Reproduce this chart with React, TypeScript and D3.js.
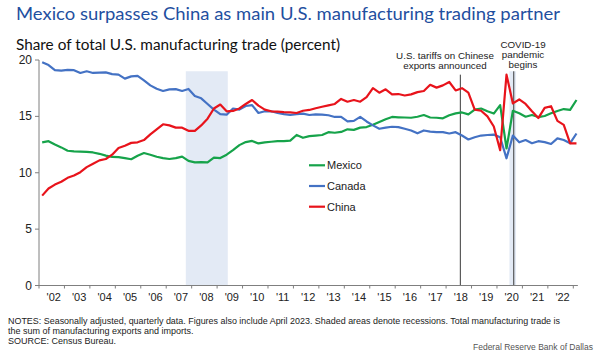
import React from "react";
import * as d3 from "d3";

const startYear = 2002;
const tickLabels = ["'02","'03","'04","'05","'06","'07","'08","'09","'10","'11","'12","'13","'14","'15","'16","'17","'18","'19","'20","'21","'22"];
const yTicks = [0, 5, 10, 15, 20];

const mexico = [12.7,12.8,12.5,12.25,11.95,11.9,11.88,11.85,11.8,11.68,11.52,11.4,11.38,11.3,11.2,11.5,
  11.75,11.6,11.42,11.3,11.22,11.3,11.43,11.05,10.92,10.95,10.92,11.34,11.3,11.6,12.0,12.45,12.72,12.82,
  12.6,12.7,12.75,12.8,12.8,12.85,13.35,13.1,13.25,13.3,13.35,13.6,13.55,13.62,13.85,13.8,14.0,14.05,
  14.25,14.5,14.75,14.95,14.92,14.9,14.88,14.97,15.12,14.9,14.88,14.83,15.1,15.27,15.35,15.18,15.6,15.7,
  15.45,15.25,16.0,12.15,15.5,15.27,14.97,15.12,14.94,15.03,15.27,15.48,15.65,15.57,16.45];
const canada = [19.8,19.55,19.1,19.05,19.12,19.1,18.85,19.0,18.85,18.88,18.9,18.75,18.7,18.35,18.55,18.6,
  18.2,17.75,17.45,17.25,17.4,17.42,17.25,17.43,16.8,16.6,16.1,15.6,15.2,15.15,15.7,15.6,15.92,16.0,
  15.3,15.45,15.45,15.3,15.2,15.12,15.2,15.25,15.12,15.18,15.15,15.1,14.95,14.95,14.55,14.6,14.95,14.55,
  14.2,13.9,14.0,14.08,14.05,13.9,13.75,13.5,13.75,13.65,13.6,13.6,13.48,13.6,13.3,12.95,13.15,13.3,
  13.35,13.38,13.15,11.28,13.3,12.7,12.9,12.62,12.8,12.72,12.55,13.05,12.9,12.62,13.48];
const china = [7.97,8.6,8.95,9.2,9.55,9.75,10.05,10.5,10.8,11.1,11.22,11.6,12.2,12.4,12.65,12.7,
  12.9,13.4,13.85,14.3,14.2,14.0,14.0,13.72,13.72,14.2,14.8,15.7,16.05,15.45,15.48,15.7,16.1,16.45,
  15.95,15.6,15.45,15.42,15.38,15.36,15.3,15.5,15.57,15.72,15.85,15.98,16.1,16.55,16.3,16.45,16.3,16.7,
  17.5,17.1,17.4,16.95,16.98,16.85,16.95,17.15,17.25,17.8,17.55,17.75,18.05,17.3,17.5,17.1,15.6,15.5,
  15.0,14.1,12.0,18.7,16.15,16.5,16.1,15.45,14.85,15.75,15.9,14.6,14.25,12.6,12.6];

const recessions = [[2007.77, 2009.42], [2020.49, 2020.75]];
const events = [
  { t: 2018.56, lines: ["U.S. tariffs on Chinese", "exports announced"], cx: 445, y0: 58.5 },
  { t: 2020.66, lines: ["COVID-19", "pandemic", "begins"], cx: 523, y0: 47.5 },
];
const seriesNames = ["Mexico", "Canada", "China"];
const seriesColors = ["#16a34a", "#4472c4", "#e8131b"];
const notes = [
  "NOTES: Seasonally adjusted, quarterly data. Figures also include April 2023. Shaded areas denote recessions. Total manufacturing trade is",
  "the sum of manufacturing exports and imports.",
  "SOURCE: Census Bureau.",
];

const W = 602, H = 355;
const x = d3.scaleLinear().domain([2002, 2023]).range([39, 573.3]);
const y = d3.scaleLinear().domain([0, 20]).range([285.5, 60]);
const FONT = "'Liberation Sans Narrow', 'Arial Narrow', 'Liberation Sans', Arial, sans-serif";

export default function App() {
  const series = [mexico, canada, china];
  const line = d3.line<number>()
    .x((_, i) => x(startYear + i * 0.25 + 0.125))
    .y((d) => y(d));
  const yearTicks = d3.range(2002, 2024);
  return (
    <svg width={W} height={H} style={{ position: "absolute", left: 0, top: 0, background: "#fff" }}>
      <text x={16} y={20} fontFamily="Lato, 'Open Sans', sans-serif" fontSize={18} fill="#1f4fa0"
        textLength={544} lengthAdjust="spacingAndGlyphs">
        Mexico surpasses China as main U.S. manufacturing trading partner
      </text>
      <text x={16} y={50} fontFamily="Lato, 'Open Sans', sans-serif" fontSize={14.5} fill="#111"
        textLength={324} lengthAdjust="spacingAndGlyphs">
        Share of total U.S. manufacturing trade (percent)
      </text>
      {recessions.map(([a, b], i) => (
        <rect key={i} x={x(a)} y={y(19)} width={x(b) - x(a)} height={y(0) - y(19)} fill="#e3eaf5" />
      ))}
      {events.map((e, i) => (
        <g key={i}>
          <line x1={x(e.t)} x2={x(e.t)} y1={i === 0 ? y(18.7) : y(19)} y2={y(0)} stroke="#3a3a3a" strokeWidth={1} />
          {e.lines.map((s, j) => (
            <text key={j} x={e.cx} y={e.y0 + j * 10.2} textAnchor="middle" fontFamily={FONT} fontSize={9.8} fill="#222">{s}</text>
          ))}
        </g>
      ))}
      <line x1={39} x2={39} y1={y(20)} y2={y(0)} stroke="#7f7f7f" strokeWidth={1} />
      {yTicks.map((v) => (
        <g key={v}>
          <line x1={35} x2={39} y1={y(v)} y2={y(v)} stroke="#7f7f7f" />
          <text x={32} y={y(v) + 4} textAnchor="end" fontFamily={FONT} fontSize={12} fill="#222">{v}</text>
        </g>
      ))}
      <line x1={39} x2={x(2023.18)} y1={y(0)} y2={y(0)} stroke="#7f7f7f" strokeWidth={1} />
      {yearTicks.map((t) => (
        <line key={t} x1={x(t)} x2={x(t)} y1={y(0)} y2={y(0) + 3} stroke="#7f7f7f" />
      ))}
      {tickLabels.map((s, i) => (
        <text key={s} x={x(2002 + i + 0.5) + 2} y={301} textAnchor="middle" fontFamily={FONT} fontSize={11} fill="#222">{s}</text>
      ))}
      {series.map((s, i) => (
        <path key={i} d={line(s) || ""} fill="none" stroke={seriesColors[i]} strokeWidth={2.2} strokeLinejoin="round" />
      ))}
      {seriesNames.map((n, i) => (
        <g key={n}>
          <line x1={309} x2={325} y1={165.3 + i * 20.7} y2={165.3 + i * 20.7} stroke={seriesColors[i]} strokeWidth={2.2} />
          <text x={327} y={165.3 + i * 20.7 + 4} fontFamily={FONT} fontSize={11} fill="#222">{n}</text>
        </g>
      ))}
      {notes.map((s, i) => (
        <text key={i} x={8} y={324 + i * 10} fontFamily={FONT} fontSize={9} fill="#222"
          textLength={i === 0 ? 552 : undefined} lengthAdjust="spacingAndGlyphs">{s}</text>
      ))}
      <text x={593} y={350} textAnchor="end" fontFamily={FONT} fontSize={8.5} fill="#555">Federal Reserve Bank of Dallas</text>
    </svg>
  );
}
